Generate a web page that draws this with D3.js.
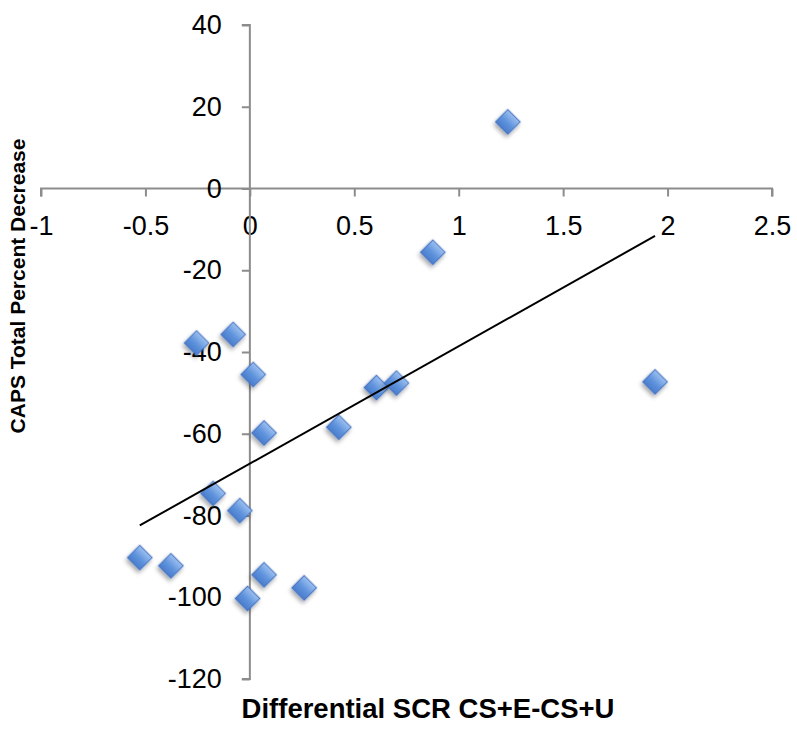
<!DOCTYPE html>
<html>
<head>
<meta charset="utf-8">
<script src="https://cdn.jsdelivr.net/npm/d3@7/dist/d3.min.js"></script>
<style>
  html, body { margin: 0; padding: 0; background: #ffffff; }
  svg { display: block; }
</style>
</head>
<body>
<svg id="chart" width="797" height="736"></svg>
<script>
// ---- data ----
const xValues = [1.235, 0.876, 1.94, -0.255, -0.08, 0.016, 0.068, 0.426, 0.606, 0.702, -0.176, -0.048, 0.068, 0.26, -0.011, -0.378, -0.527];
const yValues = [16.3, -15.6, -47.3, -37.8, -35.7, -45.5, -59.8, -58.4, -48.7, -47.6, -74.6, -78.8, -94.5, -97.7, -100.3, -92.3, -90.3];
const xTicks = [-1, -0.5, 0, 0.5, 1, 1.5, 2, 2.5];
const yTicks = [40, 20, 0, -20, -40, -60, -80, -100, -120];
const xTitle = "Differential SCR CS+E-CS+U";
const yTitle = "CAPS Total Percent Decrease";

const points = xValues.map((x, i) => ({ x, y: yValues[i] }));

const svg = d3.select("#chart");
const font = "'Liberation Sans', Arial, Helvetica, sans-serif";

const x = d3.scaleLinear().domain([-1, 2.5]).range([41, 772]);
const y = d3.scaleLinear().domain([-120, 40]).range([679, 25]);

// defs: gradient + shadow for diamonds
const defs = svg.append("defs");
const grad = defs.append("linearGradient").attr("id", "dg")
  .attr("x1", "0").attr("y1", "0").attr("x2", "0").attr("y2", "1");
grad.append("stop").attr("offset", "0%").attr("stop-color", "#9cc0f0");
grad.append("stop").attr("offset", "55%").attr("stop-color", "#5f93dc");
grad.append("stop").attr("offset", "100%").attr("stop-color", "#4a7ccc");
const f = defs.append("filter").attr("id", "sh")
  .attr("x", "-50%").attr("y", "-50%").attr("width", "200%").attr("height", "200%");
f.append("feDropShadow").attr("dx", 1).attr("dy", 3).attr("stdDeviation", 2)
  .attr("flood-color", "#000").attr("flood-opacity", 0.35);

const axisColor = "#8c8c8c";
const fmt = d => String(d);   // plain hyphen-minus, as in the reference

// x axis at y = 0
const gx = svg.append("g")
  .attr("transform", `translate(0,${y(0)})`)
  .call(d3.axisBottom(x).tickValues(xTicks).tickSize(8).tickPadding(19).tickFormat(fmt));
// y axis at x = 0
const gy = svg.append("g")
  .attr("transform", `translate(${x(0)},0)`)
  .call(d3.axisLeft(y).tickValues(yTicks).tickSize(8).tickPadding(20).tickFormat(fmt));

[gx, gy].forEach(g => {
  g.select(".domain").attr("stroke", axisColor).attr("stroke-width", 2);
  g.selectAll(".tick line").attr("stroke", axisColor).attr("stroke-width", 2);
  g.selectAll(".tick text").attr("fill", "#000")
    .style("font-family", font).style("font-size", "27px");
});
// remove tick-end overhang
gx.select(".domain").attr("d", `M${x(-1)},8V0H${x(2.5)}V8`);
gy.select(".domain").attr("d", `M-8,${y(40)}H0V${y(-120)}H-8`);

// points
const side = 17.5;
svg.append("g").selectAll("rect").data(points).join("rect")
  .attr("x", -side / 2).attr("y", -side / 2)
  .attr("width", side).attr("height", side)
  .attr("transform", d => `translate(${x(d.x)},${y(d.y)}) rotate(45)`)
  .attr("fill", "url(#dg)")
  .attr("stroke", "#3f6fbf").attr("stroke-width", 1)
  .attr("filter", "url(#sh)");

// linear trendline (least squares from the points)
const mx = d3.mean(points, d => d.x), my = d3.mean(points, d => d.y);
const sxy = d3.sum(points, d => (d.x - mx) * (d.y - my));
const sxx = d3.sum(points, d => (d.x - mx) ** 2);
const slope = sxy / sxx, intercept = my - slope * mx;
const [xmin, xmax] = d3.extent(points, d => d.x);
const trend = [xmin, xmax].map(v => ({ x: v, y: intercept + slope * v }));
svg.append("path")
  .datum(trend)
  .attr("d", d3.line().x(d => x(d.x)).y(d => y(d.y)))
  .attr("fill", "none").attr("stroke", "#000").attr("stroke-width", 2);

// axis titles
svg.append("text")
  .attr("x", 428).attr("y", 718)
  .attr("text-anchor", "middle")
  .style("font-family", font).style("font-weight", "bold").style("font-size", "27.5px")
  .text(xTitle);
svg.append("text")
  .attr("transform", "translate(25,286) rotate(-90)")
  .attr("text-anchor", "middle")
  .style("font-family", font).style("font-weight", "bold").style("font-size", "21px")
  .text(yTitle);
</script>
</body>
</html>
